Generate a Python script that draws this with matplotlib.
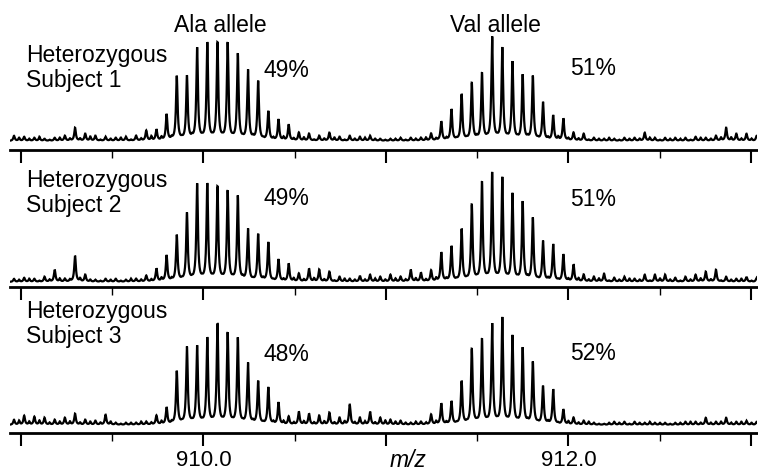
"""
Three stacked mass spectra (m/z 909-913) of heterozygous subjects,
Ala allele vs Val allele isotope clusters, charge state 18+.
"""

import matplotlib
matplotlib.use("Agg")
import matplotlib.pyplot as plt
from matplotlib.ticker import MultipleLocator, FixedLocator, FixedFormatter
import numpy as np

plt.rcParams["font.family"] = ["Liberation Sans", "DejaVu Sans"]

# isotope grid: peaks every 1.00335/18 m/z, starting just left of 909
GRID_START = 908.962
GRID_STEP = 1.00335 / 18
PEAK_GAMMA = 0.0052   # lorentzian half width (m/z)
WIGGLE_GAMMA = 0.0045

# peak heights, one per grid position (k = 0..73)
subject1 = [5, 4, 3, 2, 3, 5, 13, 7, 5, 4, 3, 4, 5, 10, 11,
            26, 64, 64, 92, 97, 97, 97, 86, 70, 59, 29, 21, 16,
            8, 7, 5, 8, 4, 5, 4, 5,
            2, 2, 3, 3, 3, 7,
            19, 31, 46, 57, 67, 103, 92, 78, 65, 64, 38, 25, 22, 8,
            7, 3, 2, 2, 3, 3, 8, 3, 3, 3, 3, 4, 3, 5, 13, 7, 7, 5]
subject2 = [3, 4, 3, 5, 12, 3, 26, 7, 2, 3, 3, 2, 3, 6, 13,
            26, 46, 68, 97, 97, 94, 90, 85, 52, 47, 39, 22, 18,
            8, 13, 12, 10, 5, 3, 6, 7,
            5, 7, 5, 12, 9, 11,
            29, 35, 52, 76, 99, 108, 103, 87, 79, 63, 40, 37, 27, 17,
            7, 5, 8, 4, 5, 3, 7, 7, 7, 4, 5, 7, 10, 12, 5, 3, 5, 4]
subject3 = [5, 9, 8, 7, 5, 7, 11, 5, 4, 10, 2, 2, 2, 3, 9,
            17, 53, 77, 78, 86, 100, 91, 86, 61, 43, 37, 22, 8,
            13, 11, 9, 12, 7, 20, 7, 13,
            7, 5, 4, 2, 3, 10,
            21, 23, 43, 75, 85, 100, 106, 88, 76, 62, 38, 35, 15, 7,
            4, 2, 1, 3, 3, 3, 2, 2, 2, 2, 3, 3, 7, 3, 7, 3, 4, 3]

# small baseline wiggles between the grid peaks (half-step positions)
wiggle1 = [3, 2, 4, 1, 3, 2, 2, 4, 1, 2, 3, 1, 2, 4, 3,
           2, 1, 2, 1, 1, 1, 1, 1, 2, 1, 2, 3, 2,
           3, 1, 2, 3, 1, 2, 3, 2,
           1, 2, 1, 2, 3, 2,
           2, 1, 1, 2, 1, 1, 1, 1, 2, 1, 2, 3, 2, 2,
           1, 2, 3, 1, 2, 2, 3, 1, 2, 2, 1, 3, 2, 3, 3, 2, 2, 1]
wiggle2 = [2, 3, 1, 2, 3, 2, 3, 2, 1, 2, 1, 3, 2, 2, 3,
           2, 1, 1, 1, 1, 1, 1, 2, 1, 2, 1, 2, 3,
           2, 3, 2, 1, 3, 2, 2, 3,
           2, 3, 2, 3, 2, 3,
           2, 1, 1, 1, 1, 1, 1, 1, 2, 1, 2, 1, 2, 3,
           2, 3, 1, 2, 3, 2, 1, 3, 2, 1, 2, 3, 2, 1, 2, 3, 1, 2]
wiggle3 = [4, 3, 4, 2, 3, 3, 2, 3, 2, 3, 1, 2, 3, 2, 3,
           2, 1, 1, 1, 1, 1, 1, 1, 2, 1, 2, 3, 2,
           3, 2, 3, 2, 3, 2, 3, 2,
           4, 3, 2, 3, 2, 3,
           2, 1, 1, 1, 1, 1, 1, 1, 2, 1, 2, 1, 3, 2,
           3, 1, 2, 2, 1, 2, 3, 2, 1, 2, 3, 2, 2, 3, 2, 3, 2, 3]

subject_labels = ["Heterozygous\nSubject 1", "Heterozygous\nSubject 2",
                  "Heterozygous\nSubject 3"]
ala_share = ["49%", "49%", "48%"]
val_share = ["51%", "51%", "52%"]

x_ticks = [909, 910, 911, 912, 913]
x_tick_labels = ["", "910.0", "", "912.0", ""]

FIG_W, FIG_H = 758, 472
X_MIN, X_MAX = 908.94, 913.033

# panel layout in pixels: (spine y, baseline offset above spine)
PANELS = [(150, 13), (287, 9), (433, 12)]
PANEL_H = 140


def fx(px):
    return px / FIG_W


def fy(py):
    return 1 - py / FIG_H


def lorentz_sum(heights, centers, gamma, mz):
    h = np.asarray(heights, dtype=float)
    return (h[:, None] / (1 + ((mz[None, :] - centers[:, None]) / gamma) ** 2)).sum(axis=0)


def spectrum(heights, wiggles, mz):
    centers = GRID_START + GRID_STEP * np.arange(len(heights))
    y = lorentz_sum(heights, centers, PEAK_GAMMA, mz)
    y += lorentz_sum(wiggles, centers + GRID_STEP / 2, WIGGLE_GAMMA, mz)
    return y


def main():
    fig = plt.figure(figsize=(FIG_W / 100, FIG_H / 100), dpi=100)
    mz = np.linspace(X_MIN, X_MAX, 5000)

    series = [(subject1, wiggle1), (subject2, wiggle2), (subject3, wiggle3)]
    for i, ((heights, wig), (spine_y, base)) in enumerate(zip(series, PANELS)):
        ax = fig.add_axes([fx(10), fy(spine_y), fx(747), PANEL_H / FIG_H])
        ax.plot(mz, spectrum(heights, wig, mz) - 4, color="black",
                linewidth=1.6, solid_joinstyle="miter")
        ax.set_xlim(X_MIN, X_MAX)
        ax.set_ylim(-base, PANEL_H - base)
        ax.patch.set_visible(False)
        for side in ("top", "left", "right"):
            ax.spines[side].set_visible(False)
        ax.spines["bottom"].set_linewidth(2.0)
        ax.set_yticks([])
        ax.xaxis.set_major_locator(FixedLocator(x_ticks))
        ax.xaxis.set_minor_locator(MultipleLocator(0.5))
        ax.tick_params(axis="x", which="major", direction="out", length=9.5,
                       width=1.5, labelsize=16, pad=3)
        ax.tick_params(axis="x", which="minor", direction="out", length=6,
                       width=1.0)
        if i == 2:
            ax.xaxis.set_major_formatter(FixedFormatter(x_tick_labels))
        else:
            ax.set_xticklabels([])

    # text annotations (pixel positions of baselines)
    txt = dict(fontsize=16.5, color="black", va="baseline")
    fig.text(fx(220), fy(32), "Ala allele", ha="center", **txt)
    fig.text(fx(495), fy(32), "Val allele", ha="center", **txt)

    label_y = [62, 187, 318]
    pct_y = [(77, 75), (205, 206), (361, 360)]
    for lab, ly, a, v, (ay, vy) in zip(subject_labels, label_y, ala_share,
                                       val_share, pct_y):
        top, bottom = lab.split("\n")
        fig.text(fx(26), fy(ly), top, ha="left", **txt)
        fig.text(fx(26), fy(ly + 25), bottom, ha="left", **txt)
        fig.text(fx(264), fy(ay), a, ha="left", **txt)
        fig.text(fx(570), fy(vy), v, ha="left", **txt)

    fig.text(fx(390), fy(467), "m/z", ha="left", style="italic", **txt)

    fig.savefig("out.png", dpi=100, facecolor="white")
    plt.close(fig)


if __name__ == "__main__":
    main()
